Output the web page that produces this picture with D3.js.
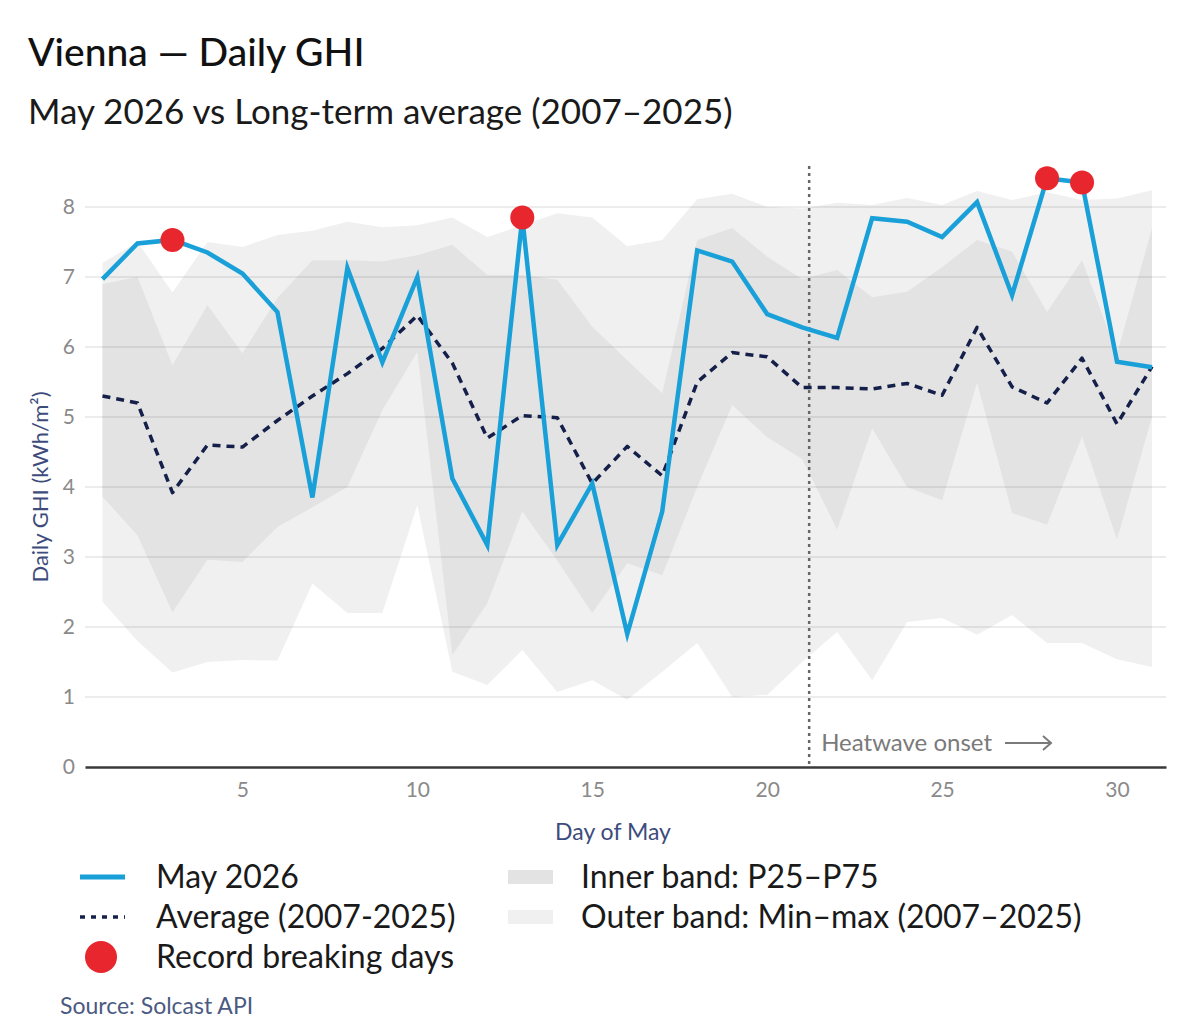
<!DOCTYPE html>
<html>
<head>
<meta charset="utf-8">
<script src="https://cdn.jsdelivr.net/npm/d3@7"></script>
<style>
  body { margin: 0; background: #fff; }
  svg { display: block; font-family: Lato, "Open Sans", sans-serif; }
</style>
</head>
<body>
<script>
// daily GHI, kWh/m², days 1..31
const days = d3.range(1, 32);
const may2026 = [6.97, 7.48, 7.53, 7.35, 7.05, 6.5, 3.85, 7.13, 5.78, 7.0, 4.12, 3.17, 7.85, 3.17, 4.05, 1.9,
  3.65, 7.38, 7.22, 6.47, 6.28, 6.13, 7.84, 7.79, 7.57, 8.07, 6.74, 8.41, 8.35, 5.79, 5.71];
const average = [5.3, 5.2, 3.92, 4.6, 4.57, 4.95, 5.3, 5.62, 5.98, 6.45, 5.77, 4.7, 5.02, 4.99, 4.05, 4.58,
  4.16, 5.5, 5.92, 5.86, 5.42, 5.42, 5.4, 5.48, 5.31, 6.28, 5.43, 5.2, 5.84, 4.9, 5.72];
const p75 = [6.9, 7.0, 5.74, 6.6, 5.91, 6.7, 7.24, 7.24, 7.22, 7.31, 7.46, 7.03, 7.03, 6.96, 6.29, 5.81,
  5.34, 7.53, 7.7, 7.29, 6.97, 7.1, 6.71, 6.79, 7.14, 7.53, 7.36, 6.5, 7.24, 5.9, 7.7];
const p25 = [3.86, 3.31, 2.21, 2.96, 2.93, 3.43, 3.71, 4.0, 5.1, 5.93, 1.6, 2.34, 3.65, 2.95, 2.2, 2.91,
  2.74, 4.0, 5.17, 4.71, 4.4, 3.39, 4.84, 4.0, 3.81, 5.49, 3.63, 3.46, 4.72, 3.25, 5.0];
const maxs = [7.2, 7.5, 6.78, 7.5, 7.43, 7.6, 7.66, 7.79, 7.71, 7.74, 7.85, 7.57, 7.74, 7.91, 7.85, 7.44,
  7.53, 8.11, 8.19, 8.0, 7.98, 8.06, 8.03, 8.13, 8.03, 8.23, 8.1, 8.21, 8.1, 8.12, 8.24];
const mins = [2.36, 1.8, 1.35, 1.5, 1.53, 1.52, 2.62, 2.2, 2.2, 3.74, 1.36, 1.17, 1.67, 1.07, 1.24, 0.96,
  1.36, 1.77, 1.0, 1.03, 1.5, 1.93, 1.24, 2.07, 2.13, 1.89, 2.17, 1.77, 1.77, 1.54, 1.43];
const recordDays = [3, 13, 28, 29];
const heatwaveDay = 21.2;
const xTicks = [5, 10, 15, 20, 25, 30];
const yTicks = [0, 1, 2, 3, 4, 5, 6, 7, 8];

const width = 1200;
const height = 1036;

const colors = {
  may: '#1aa0d8',
  avg: '#15204a',
  record: '#e8262e',
  inner: '#e3e3e3',
  outer: '#f0f0f0',
  axisText: '#8a8a8a',
  label: '#3d4c7c',
}

const rows = days.map((d, i) => ({
  day: d, may: may2026[i], avg: average[i], lo: p25[i], hi: p75[i], min: mins[i], max: maxs[i]
}));

const x = d3.scaleLinear([0.5, 31.4], [85, 1166]);
const y = d3.scaleLinear([0, 8], [767, 207]);

const svg = d3.create('svg')
  .attr('width', width)
  .attr('height', height)

document.body.append(svg.node());

// titles
svg.append('text')
  .attr('x', 28).attr('y', 66)
  .attr('font-size', 39).attr('font-weight', 500)
  .attr('fill', '#111')
  .text('Vienna — Daily GHI');

svg.append('text')
  .attr('x', 28).attr('y', 124)
  .attr('font-size', 35)
  .attr('fill', '#1a1a1a')
  .text('May 2026 vs Long-term average (2007–2025)');

// bands
const area = (lo, hi) => d3.area()
  .x(d => x(d.day))
  .y0(d => y(d[lo]))
  .y1(d => y(d[hi]));

svg.append('path')
  .datum(rows)
  .attr('d', area('min', 'max'))
  .attr('fill', colors.outer);

svg.append('path')
  .datum(rows)
  .attr('d', area('lo', 'hi'))
  .attr('fill', colors.inner);

// gridlines on top of the bands
svg.append('g')
  .selectAll('line')
  .data(yTicks.filter(t => t > 0))
  .join('line')
  .attr('x1', x.range()[0])
  .attr('x2', x.range()[1])
  .attr('y1', d => y(d))
  .attr('y2', d => y(d))
  .attr('stroke', '#000')
  .attr('stroke-opacity', 0.075)
  .attr('stroke-width', 2);

// y axis (labels only)
const gy = svg.append('g')
  .attr('transform', `translate(${x.range()[0]}, 0)`)
  .call(d3.axisLeft(y).tickValues(yTicks).tickSize(0).tickPadding(10));
gy.select('.domain').remove();
gy.selectAll('text')
  .attr('font-size', 21)
  .attr('font-family', 'Lato, sans-serif')
  .attr('fill', colors.axisText);

// x axis
const gx = svg.append('g')
  .attr('transform', `translate(0, ${y(0)})`)
  .call(d3.axisBottom(x).tickValues(xTicks).tickSize(0).tickPadding(15));
gx.select('.domain')
  .attr('stroke', '#3a3a3a')
  .attr('stroke-width', 2.5);
gx.selectAll('text')
  .attr('font-size', 21)
  .attr('font-family', 'Lato, sans-serif')
  .attr('fill', colors.axisText);

// axis titles
svg.append('text')
  .attr('transform', `translate(48, ${y(4)}) rotate(-90)`)
  .attr('text-anchor', 'middle')
  .attr('font-size', 22)
  .attr('fill', colors.label)
  .text('Daily GHI (kWh/m²)');

svg.append('text')
  .attr('x', 613)
  .attr('y', 840)
  .attr('text-anchor', 'middle')
  .attr('font-size', 23)
  .attr('fill', colors.label)
  .text('Day of May');

// heatwave marker
svg.append('line')
  .attr('x1', x(heatwaveDay)).attr('x2', x(heatwaveDay))
  .attr('y1', 166).attr('y2', y(0))
  .attr('stroke', '#666')
  .attr('stroke-width', 2.5)
  .attr('stroke-dasharray', '3,4');

const hwText = svg.append('text')
  .attr('x', x(heatwaveDay) + 12)
  .attr('y', 751)
  .attr('font-size', 24)
  .attr('fill', '#7a7a7a')
  .text('Heatwave onset');

// long arrow after the annotation
const arrowX = x(heatwaveDay) + 12 + hwText.node().getComputedTextLength() + 13;
const arrowY = 743;
svg.append('path')
  .attr('d', `M${arrowX},${arrowY}H${arrowX + 46}M${arrowX + 38},${arrowY - 7}L${arrowX + 46},${arrowY}L${arrowX + 38},${arrowY + 7}`)
  .attr('fill', 'none')
  .attr('stroke', '#7a7a7a')
  .attr('stroke-width', 2);

// average line
svg.append('path')
  .datum(rows)
  .attr('d', d3.line().x(d => x(d.day)).y(d => y(d.avg)))
  .attr('fill', 'none')
  .attr('stroke', colors.avg)
  .attr('stroke-width', 3.5)
  .attr('stroke-dasharray', '8,6')
  .attr('stroke-linejoin', 'round');

// may 2026 line
svg.append('path')
  .datum(rows)
  .attr('d', d3.line().x(d => x(d.day)).y(d => y(d.may)))
  .attr('fill', 'none')
  .attr('stroke', colors.may)
  .attr('stroke-width', 4.5)
  .attr('stroke-linejoin', 'miter');

// record dots
svg.append('g')
  .selectAll('circle')
  .data(rows.filter(d => recordDays.includes(d.day)))
  .join('circle')
  .attr('cx', d => x(d.day))
  .attr('cy', d => y(d.may))
  .attr('r', 12)
  .attr('fill', colors.record);

// legend
const legend = svg.append('g').attr('font-size', 32).attr('fill', '#1a1a1a');
const col1 = 80, col2 = 508, rowY = [877, 917, 957];

legend.append('line')
  .attr('x1', col1).attr('x2', col1 + 45).attr('y1', rowY[0]).attr('y2', rowY[0])
  .attr('stroke', colors.may).attr('stroke-width', 5);
legend.append('line')
  .attr('x1', col1).attr('x2', col1 + 45).attr('y1', rowY[1]).attr('y2', rowY[1])
  .attr('stroke', colors.avg).attr('stroke-width', 3.5).attr('stroke-dasharray', '5,6');
legend.append('circle')
  .attr('cx', col1 + 21).attr('cy', rowY[2]).attr('r', 16)
  .attr('fill', colors.record);

legend.append('rect')
  .attr('x', col2).attr('y', rowY[0] - 7).attr('width', 45).attr('height', 14)
  .attr('fill', colors.inner);
legend.append('rect')
  .attr('x', col2).attr('y', rowY[1] - 7).attr('width', 45).attr('height', 14)
  .attr('fill', colors.outer);

const legendText = [
  [col1 + 76, rowY[0], 'May 2026'],
  [col1 + 76, rowY[1], 'Average (2007-2025)'],
  [col1 + 76, rowY[2], 'Record breaking days'],
  [col2 + 73, rowY[0], 'Inner band: P25–P75'],
  [col2 + 73, rowY[1], 'Outer band: Min–max (2007–2025)'],
];
legend.selectAll('text')
  .data(legendText)
  .join('text')
  .attr('x', d => d[0])
  .attr('y', d => d[1] + 11)
  .text(d => d[2]);

svg.append('text')
  .attr('x', 60).attr('y', 1014)
  .attr('font-size', 23)
  .attr('fill', '#4b5a82')
  .text('Source: Solcast API');
</script>
</body>
</html>
